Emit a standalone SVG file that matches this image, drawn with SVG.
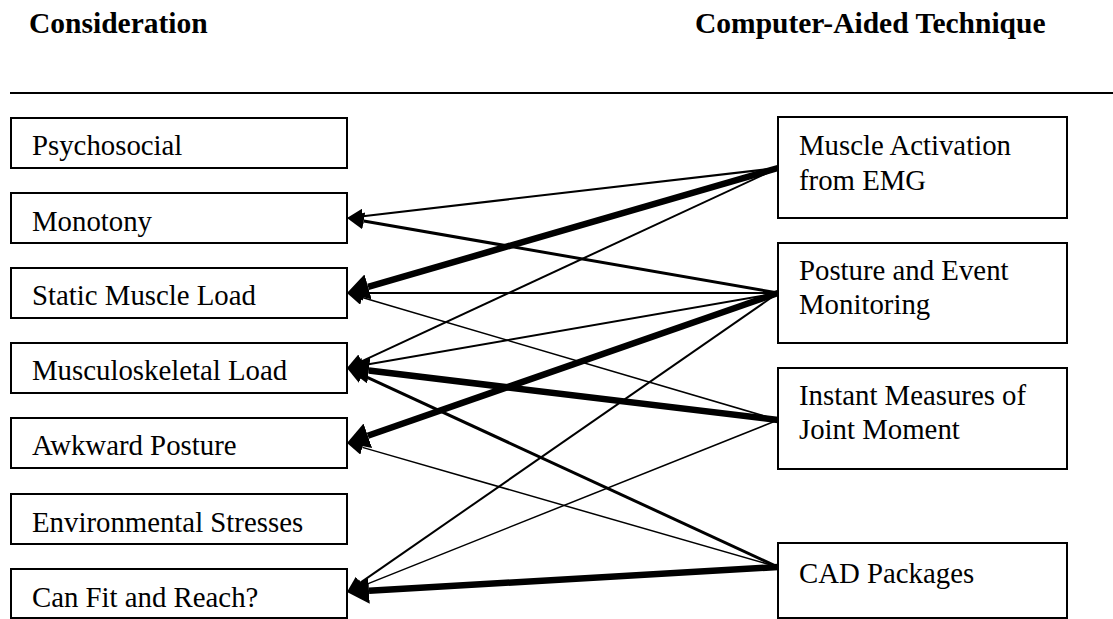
<svg xmlns="http://www.w3.org/2000/svg" width="1113" height="619" viewBox="0 0 1113 619">
<style>
  .box { fill: #fff; stroke: #000; stroke-width: 2; }
  .lbl { font-family: "Liberation Serif", "Times New Roman", serif; font-size: 28.8px; fill: #000; }
  .hdr { font-family: "Liberation Serif", "Times New Roman", serif; font-size: 29.5px; font-weight: bold; fill: #000; }
  .c { fill: none; stroke: #000; stroke-linecap: butt; }
  .thin { stroke-width: 2; marker-end: url(#ahThin); }
  .xthin { stroke-width: 1.5; marker-end: url(#ahThin); }
  .med { stroke-width: 3; marker-end: url(#ahMed); }
  .thick { stroke-width: 6.5; marker-end: url(#ahThick); }
</style>
<defs>
  <marker id="ahThin" markerUnits="userSpaceOnUse" viewBox="0 0 16 15" markerWidth="16" markerHeight="15" refX="0" refY="7.5" orient="auto">
    <path d="M0,0 L16,7.5 L0,15 Z" fill="#000"/>
  </marker>
  <marker id="ahMed" markerUnits="userSpaceOnUse" viewBox="0 0 17 17" markerWidth="17" markerHeight="17" refX="0" refY="8.5" orient="auto">
    <path d="M0,0 L17,8.5 L0,17 Z" fill="#000"/>
  </marker>
  <marker id="ahThick" markerUnits="userSpaceOnUse" viewBox="0 0 22 26" markerWidth="22" markerHeight="26" refX="0" refY="13" orient="auto">
    <path d="M0,0 L22,13 L0,26 Z" fill="#000"/>
  </marker>
</defs>

<g id="headers">
  <text class="hdr" x="29" y="33">Consideration</text>
  <text class="hdr" x="695" y="33">Computer-Aided Technique</text>
  <line x1="10" y1="93" x2="1113" y2="93" stroke="#000" stroke-width="2"/>
</g>

<g id="n-psychosocial"><rect class="box" x="11" y="118" width="336" height="50"/><text class="lbl" x="32" y="155">Psychosocial</text></g>
<g id="n-monotony"><rect class="box" x="11" y="193" width="336" height="50"/><text class="lbl" x="32" y="231">Monotony</text></g>
<g id="n-static"><rect class="box" x="11" y="268" width="336" height="50"/><text class="lbl" x="32" y="305">Static Muscle Load</text></g>
<g id="n-musculoskeletal"><rect class="box" x="11" y="343" width="336" height="50"/><text class="lbl" x="32" y="380">Musculoskeletal Load</text></g>
<g id="n-awkward"><rect class="box" x="11" y="418" width="336" height="50"/><text class="lbl" x="32" y="455">Awkward Posture</text></g>
<g id="n-environmental"><rect class="box" x="11" y="494" width="336" height="50"/><text class="lbl" x="32" y="532">Environmental Stresses</text></g>
<g id="n-canfit"><rect class="box" x="11" y="569" width="336" height="49"/><text class="lbl" x="32" y="607">Can Fit and Reach?</text></g>

<g id="n-emg"><rect class="box" x="778" y="117" width="289" height="101"/><text class="lbl" x="799" y="155">Muscle Activation</text><text class="lbl" x="799" y="190">from EMG</text></g>
<g id="n-posture"><rect class="box" x="778" y="243" width="289" height="100"/><text class="lbl" x="799" y="280">Posture and Event</text><text class="lbl" x="799" y="314">Monitoring</text></g>
<g id="n-instant"><rect class="box" x="778" y="368" width="289" height="101"/><text class="lbl" x="799" y="405">Instant Measures of</text><text class="lbl" x="799" y="439">Joint Moment</text></g>
<g id="n-cad"><rect class="box" x="778" y="543" width="289" height="75"/><text class="lbl" x="799" y="583">CAD Packages</text></g>

<g id="connectors">
  <line class="c thin" x1="778" y1="168" x2="362.9" y2="216.2"/>
  <line class="c thick" x1="778" y1="168" x2="368.1" y2="286.9"/>
  <line class="c thin" x1="778" y1="168" x2="361.5" y2="361.3"/>
  <line class="c med" x1="778" y1="293" x2="363.7" y2="220.9"/>
  <line class="c thin" x1="778" y1="293" x2="363" y2="293"/>
  <line class="c thin" x1="778" y1="293" x2="362.8" y2="365.3"/>
  <line class="c thick" x1="778" y1="293" x2="367.8" y2="435.8"/>
  <line class="c thin" x1="778" y1="293" x2="360.1" y2="582.9"/>
  <line class="c xthin" x1="778" y1="420" x2="362.3" y2="297.5"/>
  <line class="c thick" x1="778" y1="420" x2="368.8" y2="370.6"/>
  <line class="c xthin" x1="778" y1="420" x2="361.9" y2="586.1"/>
  <line class="c med" x1="778" y1="567" x2="362.4" y2="375.1"/>
  <line class="c xthin" x1="778" y1="567" x2="362.4" y2="447.4"/>
  <line class="c thick" x1="778" y1="567" x2="369.0" y2="590.7"/>
</g>
</svg>
